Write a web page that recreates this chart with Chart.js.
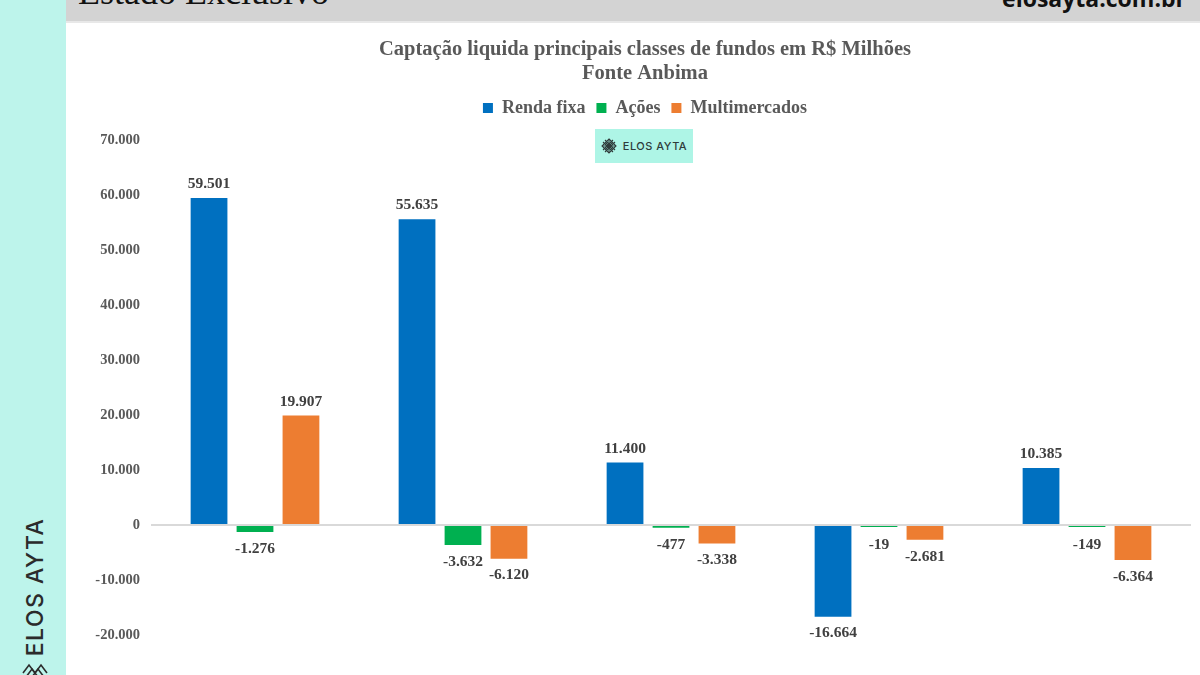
<!DOCTYPE html>
<html><head><meta charset="utf-8">
<script src="https://cdn.jsdelivr.net/npm/chart.js@4.4.1/dist/chart.umd.min.js"></script>
<style>
html,body{margin:0;padding:0;width:1200px;height:675px;overflow:hidden;background:#fff;}
#strip{position:absolute;left:0;top:0;width:66px;height:675px;background:#bdf4eb;}
#banner{position:absolute;left:66px;top:0;width:1134px;height:21px;background:#d3d3d3;border-bottom:2px solid #e8e8e8;overflow:hidden;}
#bannerL{position:absolute;left:12px;top:-29px;font:36px "Liberation Serif",serif;color:#111;white-space:nowrap;}
#bannerR{position:absolute;right:14px;top:-18px;font:bold 23px "Open Sans",sans-serif;color:#111;white-space:nowrap;}
#vert{position:absolute;left:-35px;top:573px;width:140px;height:28px;transform:rotate(-90deg);transform-origin:center;font:500 23px "Inter","Noto Sans",sans-serif;letter-spacing:1.5px;color:#2b2b2b;text-align:center;line-height:28px;white-space:nowrap;}
#vicon{position:absolute;left:22px;top:660px;}
#wrap{position:absolute;left:66px;top:22px;width:1160px;height:700px;}
#wm{position:absolute;left:595px;top:129px;width:98px;height:34px;background:#aef5e6;display:flex;align-items:center;justify-content:center;gap:6px;font:500 11px "Inter","Noto Sans",sans-serif;letter-spacing:0.5px;color:#2f3b3a;}
</style></head>
<body>
<div id="strip"></div>
<div id="banner"><div id="bannerL">Estado Exclusivo</div><div id="bannerR">elosayta.com.br</div></div>
<div id="vert">ELOS AYTA</div>
<svg id="vicon" width="26" height="20" viewBox="0 0 26 20"><g fill="none" stroke="#2b2b2b" stroke-width="1.6"><path d="M1 13 L7 5 L13 13 L19 5 L25 13"/><path d="M4 17 L10 9 L16 17 M10 17 L16 9 L22 17"/></g></svg>
<div id="wrap"><canvas id="c"></canvas></div>
<div id="wm"><svg width="16" height="16" viewBox="0 0 16 16"><g fill="none" stroke="#2f3b3a" stroke-width="1.1"><path d="M8 1 L15 8 L8 15 L1 8 Z"/><path d="M4.5 4.5 L11.5 11.5 M11.5 4.5 L4.5 11.5 M8 1 L8 15 M1 8 L15 8"/><path d="M2 4 L12 14 M4 2 L14 12 M12 2 L2 12 M14 4 L4 14"/></g></svg><span>ELOS AYTA</span></div>
<script>
const categories = ['1', '2', '3', '4', '5'];
const rendaFixa = [59501, 55635, 11400, -16664, 10385];
const acoes = [-1276, -3632, -477, -19, -149];
const multimercados = [19907, -6120, -3338, -2681, -6364];
const yTicks = [-30000, -20000, -10000, 0, 10000, 20000, 30000, 40000, 50000, 60000, 70000];

const fmt = v => {
  const s = Math.abs(v).toString().replace(/\B(?=(\d{3})+(?!\d))/g, '.');
  return (v < 0 ? '-' : '') + s;
};

const labelPlugin = {
  id: 'valueLabels',
  afterDatasetsDraw(chart) {
    const ctx = chart.ctx;
    ctx.save();
    ctx.font = 'bold 15.5px "Liberation Serif", serif';
    ctx.fillStyle = '#404040';
    ctx.textAlign = 'center';
    chart.data.datasets.forEach((ds, i) => {
      const meta = chart.getDatasetMeta(i);
      meta.data.forEach((bar, j) => {
        const v = ds.data[j];
        if (v >= 0) {
          ctx.textBaseline = 'bottom';
          ctx.fillText(fmt(v), bar.x, bar.y - 6);
        } else {
          ctx.textBaseline = 'top';
          ctx.fillText(fmt(v), bar.x, Math.max(bar.y, bar.base + 2) + 9);
        }
      });
    });
    ctx.restore();
  }
};

new Chart(document.getElementById('c'), {
  type: 'bar',
  data: {
    labels: categories,
    datasets: [
      { label: 'Renda fixa', data: rendaFixa, backgroundColor: '#0070c0' },
      { label: 'Ações', data: acoes, backgroundColor: '#00b050', minBarLength: 2 },
      { label: 'Multimercados', data: multimercados, backgroundColor: '#ed7d31' }
    ]
  },
  options: {
    responsive: true,
    maintainAspectRatio: false,
    animation: false,
    categoryPercentage: 0.663,
    barPercentage: 0.8,
    layout: { padding: { top: 0, right: 2, bottom: 24, left: 0 } },
    plugins: {
      title: {
        display: true,
        text: ['Captação liquida principais classes de fundos em R$ Milhões', 'Fonte Anbima'],
        font: { family: '"Liberation Serif", serif', size: 20.5, weight: 'bold', lineHeight: 1.1707 },
        color: '#595959',
        padding: { top: 16, bottom: 2 }
      },
      legend: {
        display: true,
        labels: {
          boxWidth: 10, boxHeight: 10, padding: 11,
          font: { family: '"Liberation Serif", serif', size: 18, weight: 'bold' },
          color: '#595959'
        }
      },
      tooltip: { enabled: false }
    },
    scales: {
      x: {
        ticks: { display: false },
        grid: { display: false },
        border: { display: false }
      },
      y: {
        min: -30000, max: 72400,
        afterBuildTicks: s => { s.ticks = yTicks.map(v => ({ value: v })); },
        afterFit: s => { s.width = 85; },
        ticks: {
          padding: 11,
          color: '#595959',
          font: { family: '"Liberation Serif", serif', size: 14.5, weight: 'bold' },
          callback: v => fmt(v)
        },
        grid: {
          drawTicks: false,
          lineWidth: 2,
          color: c => (c.tick && c.tick.value === 0) ? '#d9d9d9' : 'rgba(0,0,0,0)'
        },
        border: { display: false }
      },
      yRight: {
        position: 'right',
        display: true,
        afterFit: s => { s.width = 33; },
        ticks: { display: false },
        grid: { display: false },
        border: { display: false }
      }
    }
  },
  plugins: [labelPlugin]
});
</script>
</body></html>
